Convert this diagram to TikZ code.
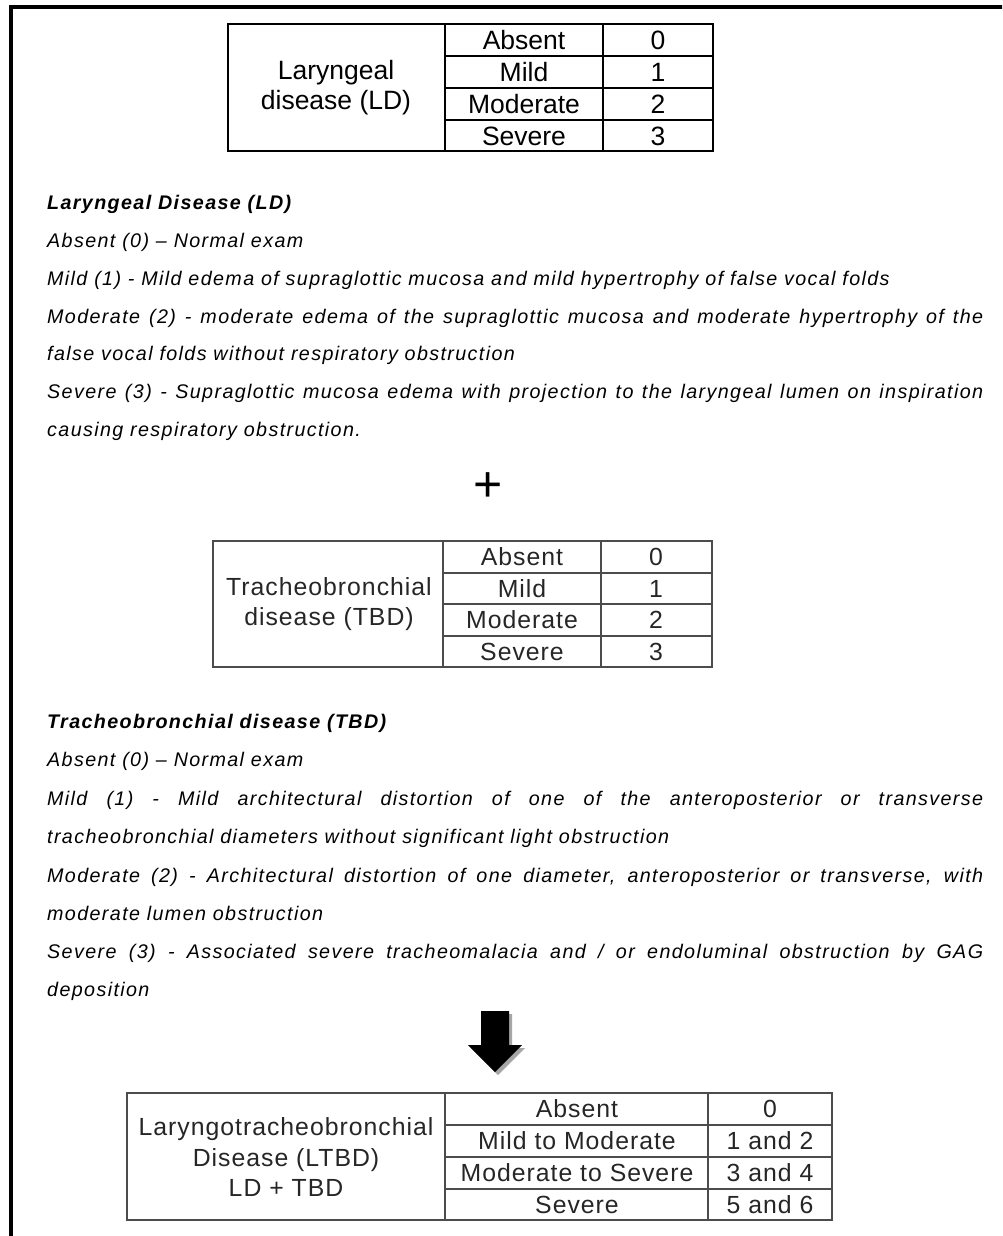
\documentclass[tikz,border=0pt]{standalone}
\usepackage{fontspec}
\setmainfont{Liberation Sans}
\newfontfamily\spaced[LetterSpace=4]{Liberation Sans}
\newfontfamily\bodyfont[LetterSpace=7]{Liberation Sans}
\begin{document}
\begin{tikzpicture}[x=1pt,y=-1pt,
  frameline/.style={line width=3.6pt,black},
  tblA/.style={line width=1.6pt,black},
  tblB/.style={line width=1.3pt,black!70},
  cellA/.style={font=\fontsize{26.5}{30}\selectfont,inner sep=0pt,align=center,text=black},
  cellB/.style={font=\spaced\fontsize{24.8}{30.5}\selectfont,inner sep=0pt,align=center,text=black!85},
  body/.style={font=\bodyfont\fontsize{19.7}{23}\selectfont\itshape,anchor=base west,inner sep=0pt},
  bodyhead/.style={font=\bodyfont\fontsize{19.7}{23}\selectfont\itshape\bfseries,anchor=base west,inner sep=0pt},
  plusmark/.style={font=\fontsize{50}{50}\selectfont,inner sep=0pt},
  shadowfill/.style={fill=black!35,draw=none},
  arrowfill/.style={fill=black,draw=none}
]
\useasboundingbox (0,0) rectangle (1002,1236);
\clip (0,0) rectangle (1002,1236);
\fill[white] (0,0) rectangle (1002,1236);

% frame (cropped box)
\draw[frameline] (1010,7) -- (11,7) -- (11,1245);

% ---------- Table 1 ----------
\draw[tblA] (228,24) rectangle (713,151);
\draw[tblA] (445,24) -- (445,151) (603,24) -- (603,151);
\draw[tblA] (445,56) -- (713,56) (445,88) -- (713,88) (445,120) -- (713,120);
\node[cellA] (ld) at (336,88) {Laryngeal\\disease (LD)};
\node[cellA] (lda) at (524,40) {Absent};
\node[cellA] (ldb) at (524,72) {Mild};
\node[cellA] (ldc) at (524,104) {Moderate};
\node[cellA] (ldd) at (524,136) {Severe};
\node[cellA] (lda0) at (658,40) {0};
\node[cellA] (ldb1) at (658,72) {1};
\node[cellA] (ldc2) at (658,104) {2};
\node[cellA] (ldd3) at (658,136) {3};

% ---------- LD text ----------
\node[bodyhead] (t1) at (47,209) {Laryngeal Disease (LD)};
\node[body] (t2) at (47,247) {Absent (0) – Normal exam};
\node[body] (t3) at (47,285) {Mild (1) - Mild edema of supraglottic mucosa and mild hypertrophy of false vocal folds};
\node[body] (t4) at (47,323) {\makebox[936pt][s]{Moderate (2) - moderate edema of the supraglottic mucosa and moderate hypertrophy of the}};
\node[body] (t5) at (47,360) {false vocal folds without respiratory obstruction};
\node[body] (t6) at (47,398) {\makebox[936pt][s]{Severe (3) - Supraglottic mucosa edema with projection to the laryngeal lumen on inspiration}};
\node[body] (t7) at (47,436) {causing respiratory obstruction.};

% plus
\node[plusmark] (plus) at (488,487) {+};

% ---------- Table 2 ----------
\draw[tblB] (213,541) rectangle (712,667);
\draw[tblB] (443,541) -- (443,667) (601,541) -- (601,667);
\draw[tblB] (443,573) -- (712,573) (443,604) -- (712,604) (443,636) -- (712,636);
\node[cellB] (tbd) at (329,604) {Tracheobronchial\\disease (TBD)};
\node[cellB] (tbda) at (522,557) {Absent};
\node[cellB] (tbdb) at (522,589) {Mild};
\node[cellB] (tbdc) at (522,620) {Moderate};
\node[cellB] (tbdd) at (522,652) {Severe};
\node[cellB] (tbda0) at (656,557) {0};
\node[cellB] (tbdb1) at (656,589) {1};
\node[cellB] (tbdc2) at (656,620) {2};
\node[cellB] (tbdd3) at (656,652) {3};

% ---------- TBD text ----------
\node[bodyhead] (u1) at (47,728) {Tracheobronchial disease (TBD)};
\node[body] (u2) at (47,766) {Absent (0) – Normal exam};
\node[body] (u3) at (47,805) {\makebox[936pt][s]{Mild (1) - Mild architectural distortion of one of the anteroposterior or transverse}};
\node[body] (u4) at (47,843) {tracheobronchial diameters without significant light obstruction};
\node[body] (u5) at (47,882) {\makebox[936pt][s]{Moderate (2) - Architectural distortion of one diameter, anteroposterior or transverse, with}};
\node[body] (u6) at (47,920) {moderate lumen obstruction};
\node[body] (u7) at (47,958) {\makebox[936pt][s]{Severe (3) - Associated severe tracheomalacia and / or endoluminal obstruction by GAG}};
\node[body] (u8) at (47,996) {deposition};

% ---------- block arrow ----------
\fill[shadowfill] (484,1014) -- (512,1014) -- (512,1048) -- (525,1048) -- (498,1075) -- (471,1048) -- (484,1048) -- cycle;
\fill[arrowfill] (481,1011) -- (509,1011) -- (509,1045) -- (522,1045) -- (495,1072) -- (468,1045) -- (481,1045) -- cycle;

% ---------- Table 3 ----------
\draw[tblB] (127,1093) rectangle (832,1220);
\draw[tblB] (445,1093) -- (445,1220) (708,1093) -- (708,1220);
\draw[tblB] (445,1125) -- (832,1125) (445,1157) -- (832,1157) (445,1189) -- (832,1189);
\node[cellB] (ltbd) at (286,1157) {Laryngotracheobronchial\\Disease (LTBD)\\LD + TBD};
\node[cellB] (la) at (577,1109) {Absent};
\node[cellB] (lb) at (577,1141) {Mild to Moderate};
\node[cellB] (lc) at (577,1173) {Moderate to Severe};
\node[cellB] (ld4) at (577,1205) {Severe};
\node[cellB] (la0) at (770,1109) {0};
\node[cellB] (lb1) at (770,1141) {1 and 2};
\node[cellB] (lc3) at (770,1173) {3 and 4};
\node[cellB] (ld5) at (770,1205) {5 and 6};
\end{tikzpicture}
\end{document}
